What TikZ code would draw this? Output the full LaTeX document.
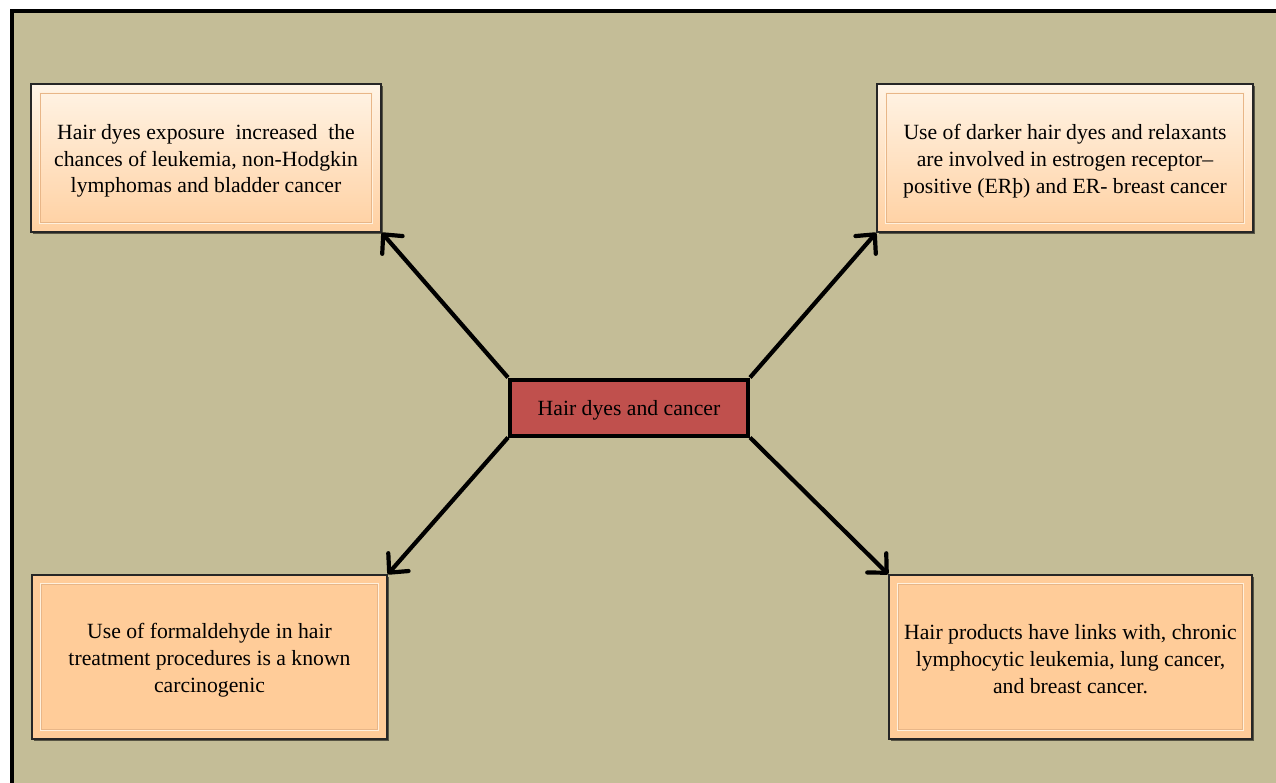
\documentclass[tikz,border=0pt]{standalone}
\usepackage{fontspec}
\setmainfont{Liberation Serif}
\usetikzlibrary{arrows.meta,shadows}
\definecolor{bgtan}{HTML}{C4BD97}
\definecolor{peach}{HTML}{FFCC99}
\definecolor{cream}{HTML}{FFF4E6}
\definecolor{bevdark}{HTML}{E8B688}
\definecolor{bevlight}{HTML}{FFF0DC}
\definecolor{centrered}{HTML}{C0504D}
\tikzset{
  every node/.style={font=\fontsize{21.7}{26.8}\selectfont, align=center},
  infobox/.style={draw=black!85, line width=1.6pt, inner sep=0pt,
    drop shadow={shadow xshift=1.5pt, shadow yshift=-1.5pt, opacity=0.55, fill=black}},
  topbox/.style={infobox, top color=cream, bottom color=peach!92!white},
  lowbox/.style={infobox, top color=peach, bottom color=peach, middle color=peach},
  bevelA/.style={draw=bevdark, line width=0.9pt},
  bevelB/.style={draw=bevlight, line width=1.2pt},
  boxtext/.style={yshift=-3pt},
  centrebox/.style={draw=black, line width=4pt, fill=centrered, minimum width=238pt, minimum height=56pt, inner sep=0pt, text depth=0pt},
  link/.style={line width=4.2pt, -{Straight Barb[length=14pt, width=27pt, round]}}
}
\begin{document}
\begin{tikzpicture}[x=1pt, y=-1pt]
\useasboundingbox (0,0) rectangle (1276,782);
\clip (0,0) rectangle (1276,782);
\fill[white] (0,0) rectangle (1276,782);
\fill[bgtan] (12,11) rectangle (1300,800);
\draw[line width=4pt] (12,800) -- (12,11) -- (1300,11);

% boxes
\node[topbox, minimum width=350pt, minimum height=148pt] (tl) at (206,158) {};
\node[topbox, minimum width=376pt, minimum height=148pt] (tr) at (1065,158) {};
\node[lowbox, minimum width=355pt, minimum height=164pt] (bl) at (209.5,657) {};
\node[lowbox, minimum width=363pt, minimum height=164pt] (br) at (1070.5,657) {};

% bevels
\foreach \b in {tl,tr,bl,br}{
  \draw[bevelB] ([shift={(9,9)}]\b.north west) rectangle ([shift={(-9,-9)}]\b.south east);
  \draw[bevelA] ([shift={(10.5,10.5)}]\b.north west) rectangle ([shift={(-10.5,-10.5)}]\b.south east);
}
% texts
\node[boxtext] (tltext) at (tl.center) {Hair dyes exposure\ \ increased\ \ the\\chances of leukemia, non-Hodgkin\\lymphomas and bladder cancer};
\node[boxtext] (trtext) at (tr.center) {Use of darker hair dyes and relaxants\\are involved in estrogen receptor–\\positive (ERþ) and ER- breast cancer};
\node[boxtext] (bltext) at (bl.center) {Use of formaldehyde in hair\\treatment procedures is a known\\carcinogenic};
\node[boxtext, yshift=1pt] (brtext) at (br.center) {Hair products have links with, chronic\\lymphocytic leukemia, lung cancer,\\and breast cancer.};

% centre
\node[centrebox] (c) at (629,407.5) {Hair dyes and cancer};

% arrows
\draw[link] (c.north west) -- (tl.south east);
\draw[link] (c.north east) -- (tr.south west);
\draw[link] (c.south west) -- (bl.north east);
\draw[link] (c.south east) -- (br.north west);
\end{tikzpicture}
\end{document}
